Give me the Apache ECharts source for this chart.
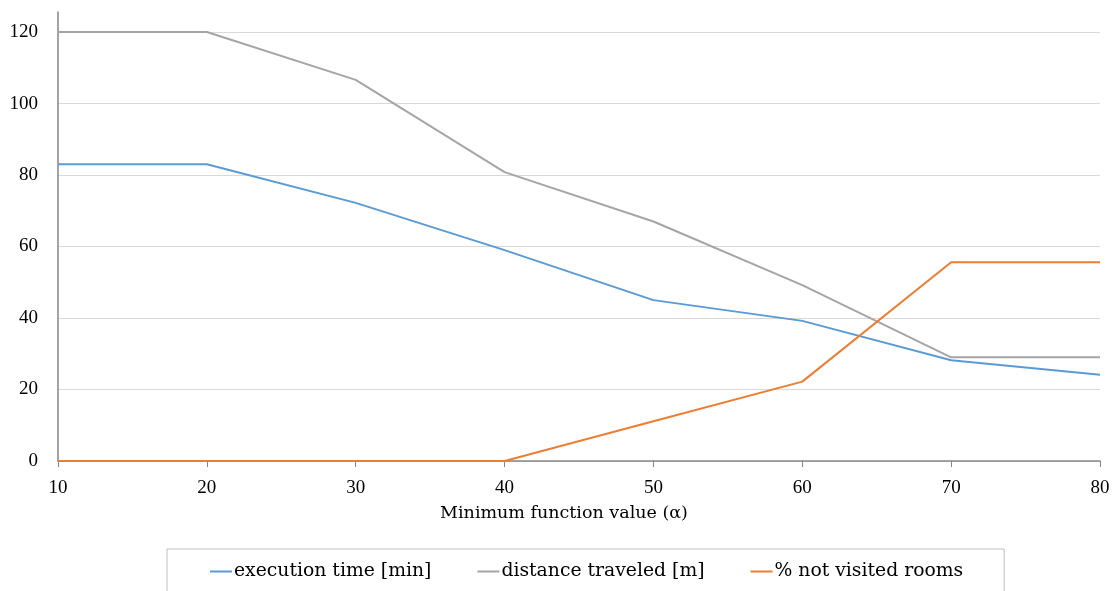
<!DOCTYPE html>
<html><head><meta charset="utf-8">
<script src="https://cdn.jsdelivr.net/npm/echarts@6/dist/echarts.min.js"></script>
<style>html,body{margin:0;padding:0;background:#fff}#c{width:1113px;height:591px}</style>
</head><body><div id="c"></div>
<script>
const alphaValues = [10, 20, 30, 40, 50, 60, 70, 80];
const executionTime = [83, 83, 72.2, 59, 45, 39.2, 28.2, 24.1];
const distanceTraveled = [120, 120, 106.6, 80.8, 67, 49.2, 29, 29];
const notVisitedRooms = [0, 0, 0, 0, 11.1, 22.2, 55.6, 55.6];
const seriesNames = ['execution time [min]', 'distance traveled [m]', '% not visited rooms'];
const seriesColors = ['#5B9BD5', '#A5A5A5', '#ED7D31'];
const xAxisTitle = 'Minimum function value (α)';

const NUMFONT = 'Liberation Serif';
const TXTFONT = 'DejaVu Serif';
const pair = arr => alphaValues.map((x, i) => [x, arr[i]]);
const chart = echarts.init(document.getElementById('c'), null, {renderer: 'canvas'});
const mk = (name, data, color) => ({
  name, type: 'line', data: pair(data), symbol: 'none', showSymbol: false,
  lineStyle: {color, width: 2}, itemStyle: {color}, animation: false
});
chart.setOption({
  animation: false,
  grid: {left: 58, right: 13, top: 12, bottom: 130},
  xAxis: {
    type: 'value', min: 10, max: 80, interval: 10,
    name: xAxisTitle, nameLocation: 'middle', nameGap: 43,
    nameTextStyle: {fontFamily: TXTFONT, fontSize: 17.5, color: '#000', padding: [0, 30, 0, 0]},
    axisLine: {show: true, lineStyle: {color: '#868686', width: 1.5}},
    axisTick: {show: true, inside: false, length: 6, lineStyle: {color: '#868686'}},
    axisLabel: {fontFamily: NUMFONT, fontSize: 19, color: '#000', margin: 18},
    splitLine: {show: false}
  },
  yAxis: {
    type: 'value', min: 0, max: 125.6, interval: 20,
    axisLine: {show: true, lineStyle: {color: '#868686', width: 1.5}},
    axisTick: {show: false},
    axisLabel: {fontFamily: NUMFONT, fontSize: 19, color: '#000', margin: 20, showMaxLabel: false},
    splitLine: {show: true, showMaxLine: false, lineStyle: {color: '#D9D9D9', width: 1}}
  },
  legend: {
    left: 167, top: 549,
    data: seriesNames,
    icon: 'rect', itemWidth: 22, itemHeight: 2, itemGap: 46,
    borderColor: '#BFBFBF', borderWidth: 1,
    padding: [13, 41, 16, 43],
    textStyle: {fontFamily: TXTFONT, fontSize: 18.8, color: '#000', padding: [0, 0, 0, -3]}
  },
  series: [
    mk(seriesNames[0], executionTime, seriesColors[0]),
    mk(seriesNames[1], distanceTraveled, seriesColors[1]),
    mk(seriesNames[2], notVisitedRooms, seriesColors[2])
  ]
});
</script></body></html>
